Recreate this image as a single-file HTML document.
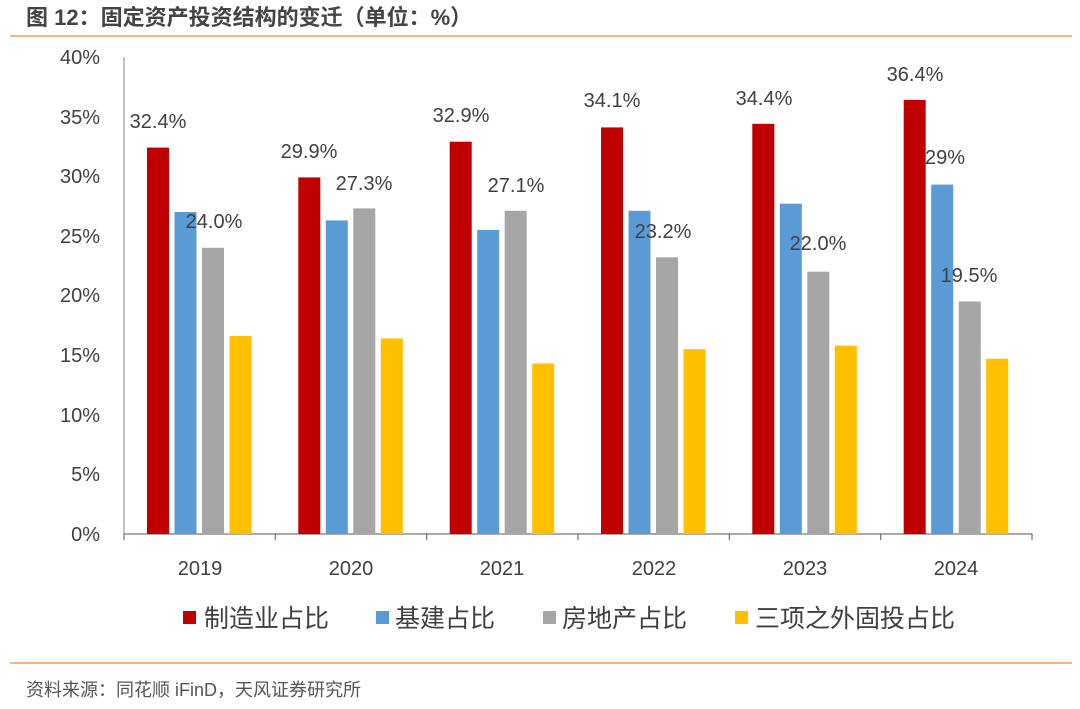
<!DOCTYPE html>
<html><head><meta charset="utf-8"><style>
body{margin:0;background:#fff;width:1080px;height:704px;overflow:hidden}
text{font-family:"Liberation Sans","Noto Sans CJK SC",sans-serif}
</style></head><body>
<svg width="1080" height="704" xmlns="http://www.w3.org/2000/svg">
<text x="26" y="25" font-size="22" font-weight="bold" fill="#444">图 12：固定资产投资结构的变迁（单位：%）</text>
<line x1="10" y1="36" x2="1072" y2="36" stroke="#f0a050" stroke-width="1.5"/>
<g font-size="20" fill="#404040" text-anchor="end">
<text x="100" y="541">0%</text><text x="100" y="481">5%</text><text x="100" y="422">10%</text>
<text x="100" y="362">15%</text><text x="100" y="302">20%</text><text x="100" y="243">25%</text>
<text x="100" y="183">30%</text><text x="100" y="124">35%</text><text x="100" y="64">40%</text>
</g>
<line x1="124" y1="57" x2="124" y2="534" stroke="#888"/>
<line x1="124" y1="534" x2="1032" y2="534" stroke="#555"/>
<g stroke="#555">
<line x1="124" y1="534" x2="124" y2="540"/><line x1="275.3" y1="534" x2="275.3" y2="540"/>
<line x1="426.7" y1="534" x2="426.7" y2="540"/><line x1="578" y1="534" x2="578" y2="540"/>
<line x1="729.3" y1="534" x2="729.3" y2="540"/><line x1="880.7" y1="534" x2="880.7" y2="540"/>
<line x1="1032" y1="534" x2="1032" y2="540"/>
</g>
<g>
<rect x="147" y="147.6" width="22" height="386.4" fill="#c00000"/>
<rect x="174.5" y="212" width="22" height="322" fill="#5b9bd5"/>
<rect x="202" y="247.8" width="22" height="286.2" fill="#a5a5a5"/>
<rect x="229.5" y="336" width="22" height="198" fill="#ffc000"/>
<rect x="298.3" y="177.4" width="22" height="356.6" fill="#c00000"/>
<rect x="325.8" y="220.4" width="22" height="313.6" fill="#5b9bd5"/>
<rect x="353.3" y="208.4" width="22" height="325.6" fill="#a5a5a5"/>
<rect x="380.8" y="338.4" width="22" height="195.6" fill="#ffc000"/>
<rect x="449.7" y="141.7" width="22" height="392.3" fill="#c00000"/>
<rect x="477.2" y="229.9" width="22" height="304.1" fill="#5b9bd5"/>
<rect x="504.7" y="210.8" width="22" height="323.2" fill="#a5a5a5"/>
<rect x="532.2" y="363.5" width="22" height="170.5" fill="#ffc000"/>
<rect x="601" y="127.4" width="22" height="406.6" fill="#c00000"/>
<rect x="628.5" y="210.8" width="22" height="323.2" fill="#5b9bd5"/>
<rect x="656" y="257.3" width="22" height="276.7" fill="#a5a5a5"/>
<rect x="683.5" y="349.2" width="22" height="184.8" fill="#ffc000"/>
<rect x="752.3" y="123.8" width="22" height="410.2" fill="#c00000"/>
<rect x="779.8" y="203.7" width="22" height="330.3" fill="#5b9bd5"/>
<rect x="807.3" y="271.7" width="22" height="262.3" fill="#a5a5a5"/>
<rect x="834.8" y="345.6" width="22" height="188.4" fill="#ffc000"/>
<rect x="903.7" y="99.9" width="22" height="434.1" fill="#c00000"/>
<rect x="931.2" y="184.6" width="22" height="349.4" fill="#5b9bd5"/>
<rect x="958.7" y="301.5" width="22" height="232.5" fill="#a5a5a5"/>
<rect x="986.2" y="358.7" width="22" height="175.3" fill="#ffc000"/>
</g>
<g font-size="20" fill="#404040" text-anchor="middle">
<text x="158" y="128">32.4%</text><text x="214" y="228">24.0%</text>
<text x="309" y="158">29.9%</text><text x="364" y="190">27.3%</text>
<text x="461" y="122">32.9%</text><text x="516" y="192">27.1%</text>
<text x="612" y="107">34.1%</text><text x="663" y="238">23.2%</text>
<text x="764" y="105">34.4%</text><text x="818" y="250">22.0%</text>
<text x="915" y="81">36.4%</text><text x="945" y="164">29%</text><text x="969" y="282">19.5%</text>
</g>
<g font-size="20" fill="#404040" text-anchor="middle">
<text x="200" y="575">2019</text><text x="351" y="575">2020</text><text x="502" y="575">2021</text>
<text x="654" y="575">2022</text><text x="805" y="575">2023</text><text x="956" y="575">2024</text>
</g>
<rect x="183" y="611" width="13" height="13" fill="#c00000"/>
<rect x="376" y="611" width="13" height="13" fill="#5b9bd5"/>
<rect x="543" y="611" width="13" height="13" fill="#a5a5a5"/>
<rect x="735" y="611" width="13" height="13" fill="#ffc000"/>
<g font-size="25" fill="#404040">
<text x="204" y="627">制造业占比</text><text x="395" y="627">基建占比</text>
<text x="562" y="627">房地产占比</text><text x="755" y="627">三项之外固投占比</text>
</g>
<line x1="10" y1="663" x2="1072" y2="663" stroke="#f0a050" stroke-width="1.5"/>
<text x="26" y="696" font-size="18" fill="#555">资料来源：同花顺 iFinD，天风证券研究所</text>
</svg>
</body></html>
